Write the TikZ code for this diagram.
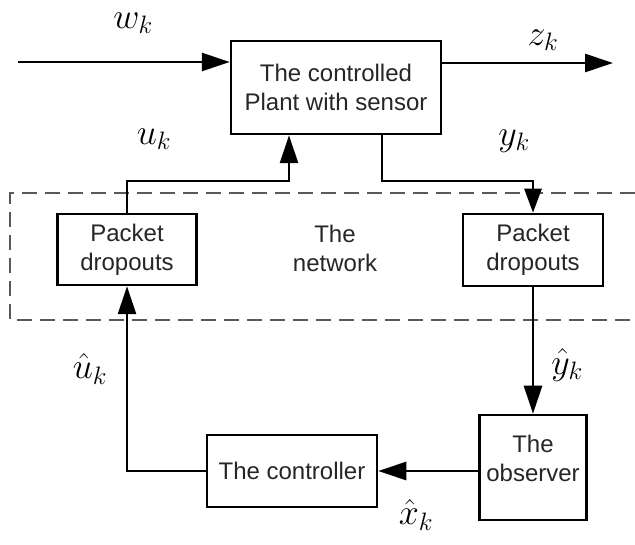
\RequirePackage{fix-cm}
\documentclass[tikz,border=0pt]{standalone}
\usepackage{fontspec}
\setmainfont{Liberation Sans}
\usetikzlibrary{arrows.meta,calc}
\begin{document}
\begin{tikzpicture}[x=1pt,y=-1pt,
  box/.style={draw=black,line width=2.5pt,fill=white,align=center,inner sep=0pt,
    font=\fontsize{24}{29}\selectfont,text=black!85},
  conn/.style={line width=2.6pt,-{Triangle[length=28pt,width=18pt]}},
  lab/.style={font=\fontsize{36}{38}\selectfont,inner sep=0pt},
  netline/.style={draw=black!65,line width=2.4pt,dash pattern=on 15pt off 8pt}]
\useasboundingbox (0,0) rectangle (635,545);
% network region
\draw[netline] (635,193) -- (10,193) -- (10,320) -- (635,320);
\node at (335,248) [align=center,font=\fontsize{24}{29}\selectfont,text=black!85] (net) {The\\network};
% boxes
\node[box,minimum width=210pt,minimum height=93pt] (plant) at (336,87.5) {The controlled\\Plant with sensor};
\node[box,minimum width=139pt,minimum height=71pt] (pdl) at (127,249.5) {Packet\\dropouts};
\node[box,minimum width=140pt,minimum height=72pt] (pdr) at (533,250) {Packet\\dropouts};
\node[box,minimum width=107pt,minimum height=105pt] (obs) at (533,467.5) {};
\node[align=center,font=\fontsize{24}{29}\selectfont,text=black!85] (obstext) at (533,458) {The\\observer};
\node[box,minimum width=170pt,minimum height=72pt] (ctrl) at (292,471) {The controller};
% coordinates
\coordinate (win) at (18,62);
\coordinate (zout) at (613,63);
\coordinate (ucorner) at (289,181);
\coordinate (ycorner) at (382,181);
% connectors
\draw[conn] (win) -- (win -| plant.west);
\draw[conn] (zout -| plant.east) -- (zout);
\draw[conn] (pdl.north) |- (ucorner) -- (ucorner |- plant.south);
\draw[conn,-{Triangle[length=24pt,width=17pt]}] (ycorner |- plant.south) -- (ycorner) -| (pdr.north);
\draw[conn] (pdr.south) -- (obs.north);
\draw[conn] (ctrl.east -| obs.west) -- (ctrl.east);
\draw[conn] (ctrl.west) -| (pdl.south);
% labels
\node[lab] (lw) at (133,23) {$w_k$};
\node[lab] (lz) at (543,40) {$z_k$};
\node[lab] (lu) at (154,139) {$u_k$};
\node[lab] (ly) at (514,141) {$y_k$};
\node[lab] (lyh) at (567,365) {$\hat{y}_k$};
\node[lab] (luh) at (90,369) {$\hat{u}_k$};
\node[lab] (lxh) at (416,515) {$\hat{x}_k$};
\end{tikzpicture}
\end{document}
